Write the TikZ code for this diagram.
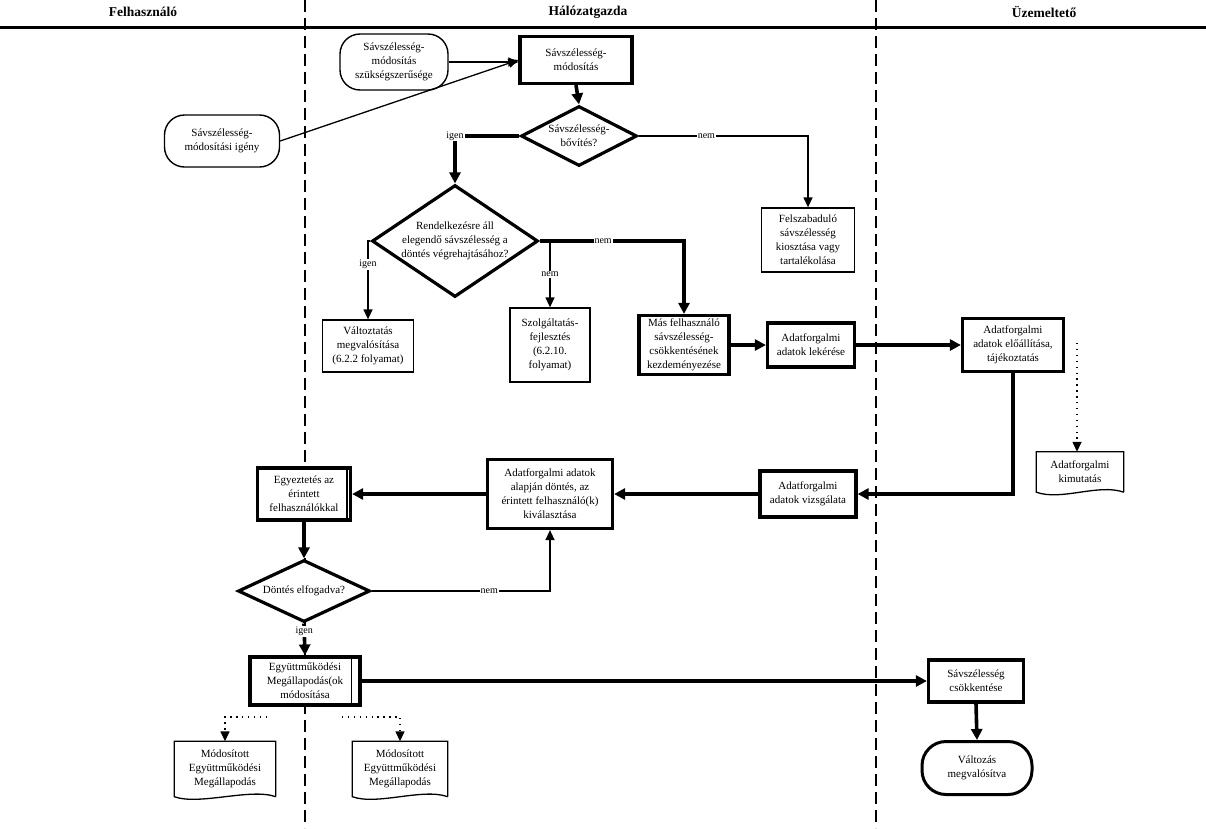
\documentclass[tikz,border=0pt]{standalone}
\usepackage{fontspec}
\setmainfont{Liberation Serif}
\usetikzlibrary{shapes.geometric,arrows.meta,calc}

% document shape: frame with a wavy bottom drawn around a node
\newcommand{\docframe}[1]{%
  \draw[line width=1.3pt] (#1.south east) -- (#1.north east) -- (#1.north west) -- (#1.south west)
    .. controls +(25pt,-9pt) and +(-25pt,9pt) .. (#1.south east);}

\begin{document}
\begin{tikzpicture}[x=1pt, y=-1pt,
  every node/.style = {align=center, font=\fontsize{11}{14}\selectfont},
  box/.style = {shape=rectangle, draw, fill=white, line width=1.3pt, inner sep=0pt},
  thickbox/.style = {box, line width=3.2pt},
  term/.style = {shape=rectangle, draw, fill=white, rounded corners=20pt, line width=1.4pt, inner sep=0pt},
  decision/.style = {shape=diamond, draw, fill=white, line width=3.2pt, inner sep=-10pt},
  docbox/.style = {shape=rectangle, fill=white, inner sep=0pt},
  lab/.style = {fill=white, inner sep=1pt, font=\fontsize{10}{11}\selectfont},
  header/.style = {font=\fontsize{13.5}{14}\selectfont\bfseries},
  thinarr/.style = {line width=1.3pt, -{Triangle[length=10pt,width=9pt]}},
  thickarr/.style = {line width=3.6pt, -{Triangle[length=11pt,width=11pt]}},
  dotarr/.style = {line width=1.4pt, dash pattern=on 1.4pt off 4.5pt, -{Triangle[length=10pt,width=9pt]}},
  lane/.style = {line width=1.6pt, dash pattern=on 12pt off 6pt}]

  \useasboundingbox (0,0) rectangle (1206,828);

  % swimlanes
  \draw[line width=3pt] (0,27) -- (1206,27);
  \draw[lane] (305,0) -- (305,828);
  \draw[lane] (876,0) -- (876,828);
  \node[header] (hdruser) at (143,12) {Felhasználó};
  \node[header] (hdrnet)  at (588,12) {Hálózatgazda};
  \node[header] (hdrop)   at (1044,12) {Üzemeltető};

  % top part
  \node[term, minimum width=108pt, minimum height=56pt] (need) at (394,62)
    {Sávszélesség-\\módosítás\\szükségszerűsége};
  \node[term, minimum width=115pt, minimum height=52pt] (request) at (222,141)
    {Sávszélesség-\\módosítási igény};
  \node[thickbox, minimum width=112pt, minimum height=47pt] (modify) at (576,60)
    {Sávszélesség-\\módosítás};
  \node[decision, minimum width=116pt, minimum height=60pt] (bigger) at (579,136)
    {Sávszélesség-\\bővítés?};
  \node[box, minimum width=93pt, minimum height=64pt] (free) at (808,240)
    {Felszabaduló\\sávszélesség\\kiosztása vagy\\tartalékolása};
  \node[decision, minimum width=166pt, minimum height=112pt] (enough) at (455,241)
    {Rendelkezésre áll\\elegendő sávszélesség a\\döntés végrehajtásához?};
  \node[box, minimum width=91pt, minimum height=52pt] (change) at (368,346)
    {Változtatás\\megvalósítása\\(6.2.2 folyamat)};
  \node[box, minimum width=80pt, minimum height=74pt] (serv) at (550,345)
    {Szolgáltatás-\\fejlesztés\\(6.2.10.\\folyamat)};
  \node[thickbox, minimum width=90pt, minimum height=59pt] (other) at (684,345)
    {Más felhasználó\\sávszélesség-\\csökkentésének\\kezdeményezése};
  \node[thickbox, minimum width=87pt, minimum height=44pt] (query) at (811,345)
    {Adatforgalmi\\adatok lekérése};
  \node[thickbox, minimum width=101pt, minimum height=53pt] (prod) at (1013,345)
    {Adatforgalmi\\adatok előállítása,\\tájékoztatás};
  \node[docbox, minimum width=87pt, minimum height=40pt] (report) at (1080,472)
    {Adatforgalmi\\kimutatás};
  \docframe{report}

  % middle part
  \node[thickbox, minimum width=96pt, minimum height=46pt] (exam) at (808,494)
    {Adatforgalmi\\adatok vizsgálata};
  \node[thickbox, minimum width=125pt, minimum height=69pt] (choose) at (550,494)
    {Adatforgalmi adatok\\alapján döntés, az\\érintett felhasználó(k)\\kiválasztása};
  \node[thickbox, minimum width=93pt, minimum height=52pt] (agree) at (304,494)
    {Egyeztetés az\\érintett\\felhasználókkal};
  \draw[line width=1.3pt] ([xshift=-5pt]agree.north east) -- ([xshift=-5pt]agree.south east);
  \node[decision, minimum width=132pt, minimum height=62pt] (accept) at (304,591)
    {Döntés elfogadva?};

  % bottom part
  \node[thickbox, minimum width=110pt, minimum height=48pt] (contract) at (305,681)
    {Együttműködési\\Megállapodás(ok\\módosítása};
  \draw[line width=1.3pt] ([xshift=-10pt]contract.north east) -- ([xshift=-10pt]contract.south east);
  \node[thickbox, minimum width=95pt, minimum height=42pt] (cut) at (976,681)
    {Sávszélesség\\csökkentése};
  \node[term, line width=3pt, rounded corners=24pt, minimum width=110pt, minimum height=53pt] (done) at (977,768)
    {Változás\\megvalósítva};
  \node[docbox, minimum width=101pt, minimum height=55pt] (doc1) at (225,769)
    {Módosított\\Együttműködési\\Megállapodás};
  \docframe{doc1}
  \node[docbox, minimum width=95pt, minimum height=55pt] (doc2) at (400,769)
    {Módosított\\Együttműködési\\Megállapodás};
  \docframe{doc2}

  \coordinate (prodtag) at (1077,343);
  \coordinate (ltag) at (267,717);
  \coordinate (rtag) at (342,717);

  % connectors
  \draw[thinarr] (need.east) -- (need.east -| modify.west);
  \draw[thinarr] (request.east) -- (modify.west);
  \draw[thickarr] (modify.south) -- (bigger.north);
  \draw[thickarr] (bigger.west) -| node[lab]{igen} (enough.north);
  \draw[thinarr] (bigger.east) -| node[lab, pos=0.2]{nem} (free.north);
  \draw[thinarr] (enough.west) -| node[lab, pos=0.65]{igen} (change.north);
  \draw[thickarr] (enough.east) -| node[lab, pos=0.22]{nem} (other.north);
  \draw[thinarr] (enough.east -| serv.north) -- node[lab]{nem} (serv.north);
  \draw[thickarr] (other.east) -- (query.west);
  \draw[thickarr] (query.east) -- (prod.west);
  \draw[dotarr] (prodtag) -- (prodtag |- report.north);
  \draw[thickarr] (prod.south) |- (exam.east);
  \draw[thickarr] (exam.west) -- (choose.east);
  \draw[thickarr] (choose.west) -- (agree.east);
  \draw[thickarr] (agree.south) -- (accept.north);
  \draw[thinarr] (accept.east) -| node[lab, pos=0.33]{nem} (choose.south);
  \draw[thickarr] (accept.south) -- node[lab, pos=0.25]{igen} (contract.north);
  \draw[thickarr] (contract.east) -- (contract.east -| cut.west);
  \draw[thickarr] (cut.south) -- (done.north);
  \draw[dotarr] (ltag) -| (doc1.north);
  \draw[dotarr] (rtag) -| (doc2.north);
\end{tikzpicture}
\end{document}
